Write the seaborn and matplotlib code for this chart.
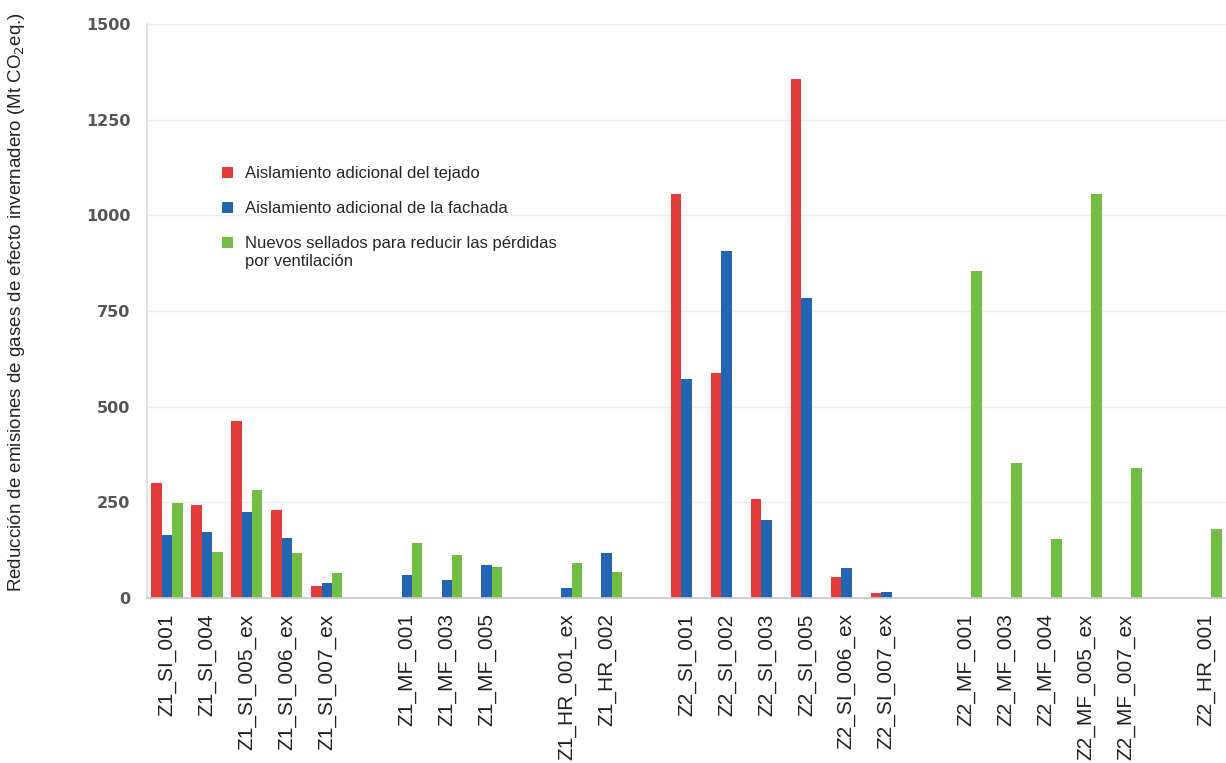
import numpy as np
import pandas as pd
import matplotlib
matplotlib.use("Agg")
import matplotlib.pyplot as plt
import seaborn as sns

# edificios (categorias del eje x)
edificios = ["Z1_SI_001", "Z1_SI_004", "Z1_SI_005_ex", "Z1_SI_006_ex", "Z1_SI_007_ex",
             "Z1_MF_001", "Z1_MF_003", "Z1_MF_005",
             "Z1_HR_001_ex", "Z1_HR_002",
             "Z2_SI_001", "Z2_SI_002", "Z2_SI_003", "Z2_SI_005", "Z2_SI_006_ex", "Z2_SI_007_ex",
             "Z2_MF_001", "Z2_MF_003", "Z2_MF_004", "Z2_MF_005_ex", "Z2_MF_007_ex",
             "Z2_HR_001"]
# numero de edificios por grupo (se deja un hueco entre grupos)
grupos = [5, 3, 2, 6, 5, 1]

tejado = [300, 242, 463, 229, 31, 0, 0, 0, 0, 0,
          1055, 589, 260, 1357, 55, 13, 0, 0, 0, 0, 0, 0]
fachada = [164, 172, 224, 156, 39, 60, 47, 86, 26, 117,
           573, 906, 203, 784, 78, 16, 0, 0, 0, 0, 0, 0]
sellado = [247, 120, 281, 117, 65, 143, 112, 81, 91, 68,
           0, 0, 0, 0, 0, 0, 854, 354, 154, 1057, 341, 180]

series = ["Aislamiento adicional del tejado",
          "Aislamiento adicional de la fachada",
          "Nuevos sellados para reducir las pérdidas\npor ventilación"]
colores = ["#e23b3b", "#2465b3", "#73bd45"]

df = pd.DataFrame({"edificio": edificios, series[0]: tejado,
                   series[1]: fachada, series[2]: sellado})
df = df.melt(id_vars="edificio", var_name="medida", value_name="valor")

# orden con huecos entre grupos
orden = []
i = 0
for k, n in enumerate(grupos):
    orden += edificios[i:i + n]
    i += n
    if k < len(grupos) - 1:
        orden.append(" " * (k + 1))

sns.set_theme(style="white")
plt.rcParams["font.family"] = ["Liberation Sans", "DejaVu Sans"]
plt.rcParams["mathtext.fontset"] = "custom"
plt.rcParams["mathtext.rm"] = "Liberation Sans Narrow"
plt.rcParams["mathtext.it"] = "Liberation Sans Narrow:italic"

fig = plt.figure(figsize=(12.26, 7.63), dpi=100)
ax = fig.add_axes([147 / 1226, 165 / 763, 1 - 147 / 1226, (598 - 24) / 763])

sns.barplot(data=df, x="edificio", y="valor", hue="medida", order=orden,
            hue_order=series, palette=colores, width=0.78, linewidth=0,
            saturation=1, ax=ax)

ax.set_ylim(0, 1500)
ax.set_xlim(-0.5, 26.34)
ax.set_yticks([0, 250, 500, 750, 1000, 1250, 1500])
ax.yaxis.grid(True, color="#ededed", lw=1)
ax.set_axisbelow(True)

ax.set_xticks(np.arange(-0.5, len(orden), 1), minor=True)
ax.tick_params(axis="x", which="major", length=0, pad=11, labelsize=15,
               labelrotation=90, labelcolor="#222222")
ax.tick_params(axis="x", which="minor", length=4, color="#bbbbbb", width=1)
ax.tick_params(axis="y", length=3, color="#bbbbbb", pad=9, labelsize=11.5,
               labelcolor="#555555")
for t in ax.get_yticklabels():
    t.set_fontweight("bold")
    t.set_family("DejaVu Sans")

for s in ["top", "right"]:
    ax.spines[s].set_visible(False)
ax.spines["left"].set_color("#dddddd")
ax.spines["bottom"].set_color("#c8c8c8")

ax.set_xlabel("")
ax.set_ylabel("Reducción de emisiones de gases de efecto invernadero (Mt CO$_2$eq.)",
              fontsize=13.5, color="#222222",
              family=["Liberation Sans Narrow", "Liberation Sans"])
ax.yaxis.set_label_coords(-0.111, 0.515)

sns.move_legend(ax, "upper left", bbox_to_anchor=(0.0695, 0.752), frameon=False,
                title=None, fontsize=12, handlelength=0.65, handleheight=0.65,
                handletextpad=0.75, labelspacing=1.2, borderpad=0,
                borderaxespad=0)
# el cuadro verde va con la primera linea de su etiqueta
h = ax.get_legend().legend_handles[2]
h.set_y(h.get_y() + 7.2)

fig.savefig("out.png", dpi=100)
